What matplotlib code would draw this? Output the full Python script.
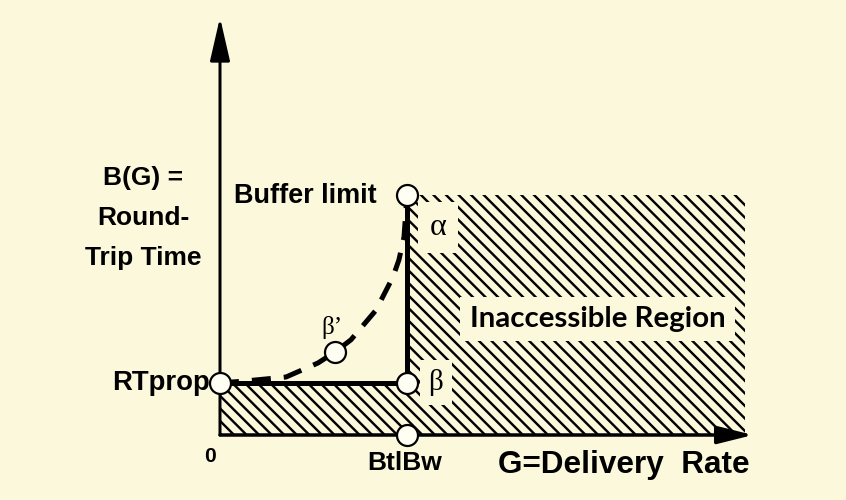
import matplotlib
matplotlib.use('Agg')
import matplotlib.pyplot as plt
from matplotlib.patches import Rectangle

DPI = 113
def pt(px):
    return px * 72.0 / DPI

BG = '#fbf8dc'
SANS = ['Liberation Sans', 'DejaVu Sans']
SERIF = ['Liberation Serif', 'DejaVu Serif']

# ---- data (normalised units: RTprop = 1, BtlBw = 1) ----
rtprop = 1.0
btlbw = 1.0
buffer_limit = 4.615
rate_max = 2.81          # right edge of inaccessible region
rate_axis_end = 2.85
rtt_axis_end = 8.03
curve_rate = [0.0, 0.139, 0.353, 0.524, 0.615, 0.70, 0.834, 0.925, 0.957, 0.984, 1.0]
curve_rtt = [1.0, 1.04, 1.115, 1.385, 1.596, 1.83, 2.40, 3.04, 3.37, 3.81, 4.615]
beta_prime = (0.615, 1.596)
ylabel_lines = ['B(G) =', 'Round-', 'Trip Time']

plt.rcParams['hatch.linewidth'] = pt(2.4)

fig = plt.figure(figsize=(846 / DPI, 500 / DPI), dpi=DPI, facecolor=BG)
ax = fig.add_axes([0, 0, 1, 1])
ax.set_facecolor(BG)
ax.set_xlim(-220 / 187, 626 / 187)
ax.set_ylim(-65 / 52, 435 / 52)
ax.axis('off')

# hatched (inaccessible) regions
ax.add_patch(Rectangle((0, 0), btlbw, rtprop, facecolor=BG, edgecolor='black',
                       hatch='\\\\\\', linewidth=0, zorder=1))
ax.add_patch(Rectangle((btlbw, 0), rate_max - btlbw, buffer_limit, facecolor=BG,
                       edgecolor='black', hatch='\\\\\\', linewidth=0, zorder=1))

# axes arrows
ax.annotate('', xy=(rate_axis_end, 0), xytext=(0, 0),
            arrowprops=dict(arrowstyle=f'-|>,head_length={pt(30)},head_width={pt(7.5)}',
                            lw=pt(3.5), color='black', shrinkA=0, shrinkB=0,
                            mutation_scale=1), zorder=5)
ax.annotate('', xy=(0, rtt_axis_end), xytext=(0, 0),
            arrowprops=dict(arrowstyle=f'-|>,head_length={pt(37)},head_width={pt(8.5)}',
                            lw=pt(3), color='black', shrinkA=0, shrinkB=0,
                            mutation_scale=1), zorder=5)

# operating curves
ax.plot([0, btlbw, btlbw], [rtprop, rtprop, buffer_limit], color='black',
        lw=pt(5), solid_joinstyle='miter', zorder=3)
ax.plot(curve_rate, curve_rtt, color='black', lw=pt(5), linestyle=(0, (3.8, 2.6)),
        dash_capstyle='butt', zorder=3)

# points
ax.plot([0, btlbw, btlbw, btlbw, beta_prime[0]],
        [rtprop, rtprop, buffer_limit, 0, beta_prime[1]], 'o', ms=pt(21),
        mfc='#fffef2', mec='black', mew=pt(2.2), zorder=6)

def label(text, xy, off, ha='center', size=26.4, family=SANS, weight='bold', bbox=None):
    ax.annotate(text, xy=xy, xytext=off, textcoords='offset pixels', ha=ha,
                va='baseline', fontsize=pt(size), fontfamily=family,
                fontweight=weight, color='black', bbox=bbox, zorder=7)

label('Buffer limit', (btlbw, buffer_limit), (-30, -8), ha='right', size=27)
label('RTprop', (0, rtprop), (-10, -7), ha='right', size=27.5)
label('0', (0, 0), (-10, -27), size=21)
label('BtlBw', (btlbw, 0), (-2, -35))
label('G=Delivery  Rate', (rate_axis_end, 0), (-3, -38), ha='right', size=31.5)

label('α', (btlbw, buffer_limit), (31, -40), size=32, family=SERIF, weight='normal',
      bbox=dict(boxstyle='square,pad=0.35', facecolor=BG, edgecolor='none'))
label('β', (btlbw, rtprop), (29, -7), size=29, family=SERIF, weight='normal',
      bbox=dict(boxstyle='square,pad=0.3', facecolor=BG, edgecolor='none'))
label('β’', beta_prime, (-3, 18), size=25, family=SERIF, weight='normal')

ax.text(2.02, 2.077, 'Inaccessible Region', ha='center', va='baseline',
        fontsize=pt(29.5), fontfamily=['Lato', 'DejaVu Sans'], fontweight='bold',
        bbox=dict(boxstyle='square,pad=0.32', facecolor=BG, edgecolor='none'), zorder=7)

for i, line in enumerate(ylabel_lines):
    ax.annotate(line, xy=(0, 0), xytext=(-77, 435 - (185 + 40 * i)),
                textcoords='offset pixels', ha='center', va='baseline',
                fontsize=pt(26.4), fontfamily=SANS, fontweight='bold', zorder=7)

fig.savefig('out.png', dpi=DPI, facecolor=BG)
